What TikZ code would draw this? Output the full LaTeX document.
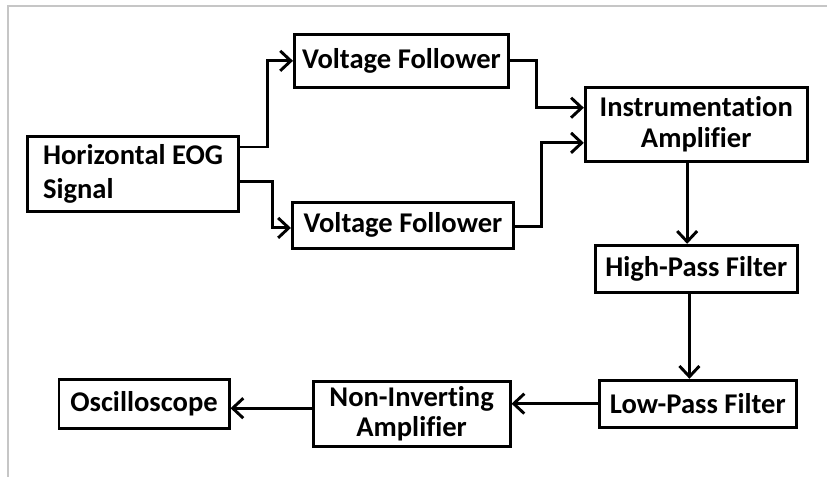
\documentclass[tikz,border=0pt]{standalone}
\usepackage{fontspec}
\setmainfont{Carlito}[Ligatures=NoCommon]
\usetikzlibrary{arrows.meta, positioning}

\begin{document}
\begin{tikzpicture}[
    ->, >={Straight Barb[length=8pt, width=15pt]}, line width=2.2pt, node distance=1.5cm,
    every node/.style={draw, line width=2.2pt, align=center, inner sep=0pt, font=\bfseries\fontsize{21.5}{23}\selectfont}
]
\useasboundingbox (0,0) rectangle (21.88,-12.62);
\draw[-, line width=1.1pt, gray!45] (0.21,-12.62) |- (21.88,-0.16);

\node (eog_signal) [rectangle, align=left, minimum width=5.58cm, minimum height=1.98cm] at (3.52,-4.60) {Horizontal EOG\\[2.5pt]Signal};
\node (follower_top) [rectangle, right of=eog_signal, xshift=5.6cm, yshift=2.99cm, minimum width=5.66cm, minimum height=1.40cm] {Voltage Follower};
\node (follower_bottom) [rectangle, below of=follower_top, xshift=0.04cm, yshift=-2.85cm, minimum width=5.85cm, minimum height=1.22cm] {Voltage Follower};
\node (instr_amp) [rectangle, right of=follower_top, xshift=6.3cm, yshift=-1.68cm, minimum width=5.87cm, minimum height=1.96cm] {Instrumentation\\Amplifier};
\node (high_pass) [rectangle, below of=instr_amp, yshift=-2.32cm, minimum width=5.34cm, minimum height=1.24cm] {High-Pass Filter};
\node (low_pass) [rectangle, below of=high_pass, xshift=0.04cm, yshift=-2.07cm, minimum width=5.21cm, minimum height=1.24cm] {Low-Pass Filter};
\node (non_inv_amp) [rectangle, left of=low_pass, xshift=-6.07cm, yshift=-0.27cm, minimum width=5.21cm, minimum height=1.72cm] {Non-Inverting\\Amplifier};
\node (scope) [rectangle, left of=non_inv_amp, xshift=-5.58cm, yshift=0.27cm, minimum width=4.50cm, minimum height=1.30cm] {Oscilloscope};

\draw[->] ([yshift=0.71cm]eog_signal.east) -- ++(0.74,0) |- (follower_top);
\draw[->] ([yshift=-0.21cm]eog_signal.east) -- ++(0.85,0) |- ([yshift=-0.07cm]follower_bottom.west);
\draw[->] (follower_top.east) -- ++(0.71,0) |- ([yshift=0.44cm]instr_amp.west);
\draw[->] ([yshift=-0.04cm]follower_bottom.east) -- ++(0.71,0) |- ([yshift=-0.49cm]instr_amp.west);
\draw[->] ([xshift=-0.24cm]instr_amp.south) -- ([xshift=-0.24cm]high_pass.north);
\draw[->] ([xshift=-0.18cm]high_pass.south) -- ([xshift=-0.18cm]high_pass.south |- low_pass.north);
\draw[->] (low_pass.west) -- (low_pass.west -| non_inv_amp.east);
\draw[->] ([yshift=0.15cm]non_inv_amp.west) -- ([yshift=0.15cm]non_inv_amp.west -| scope.east);
\end{tikzpicture}
\end{document}
